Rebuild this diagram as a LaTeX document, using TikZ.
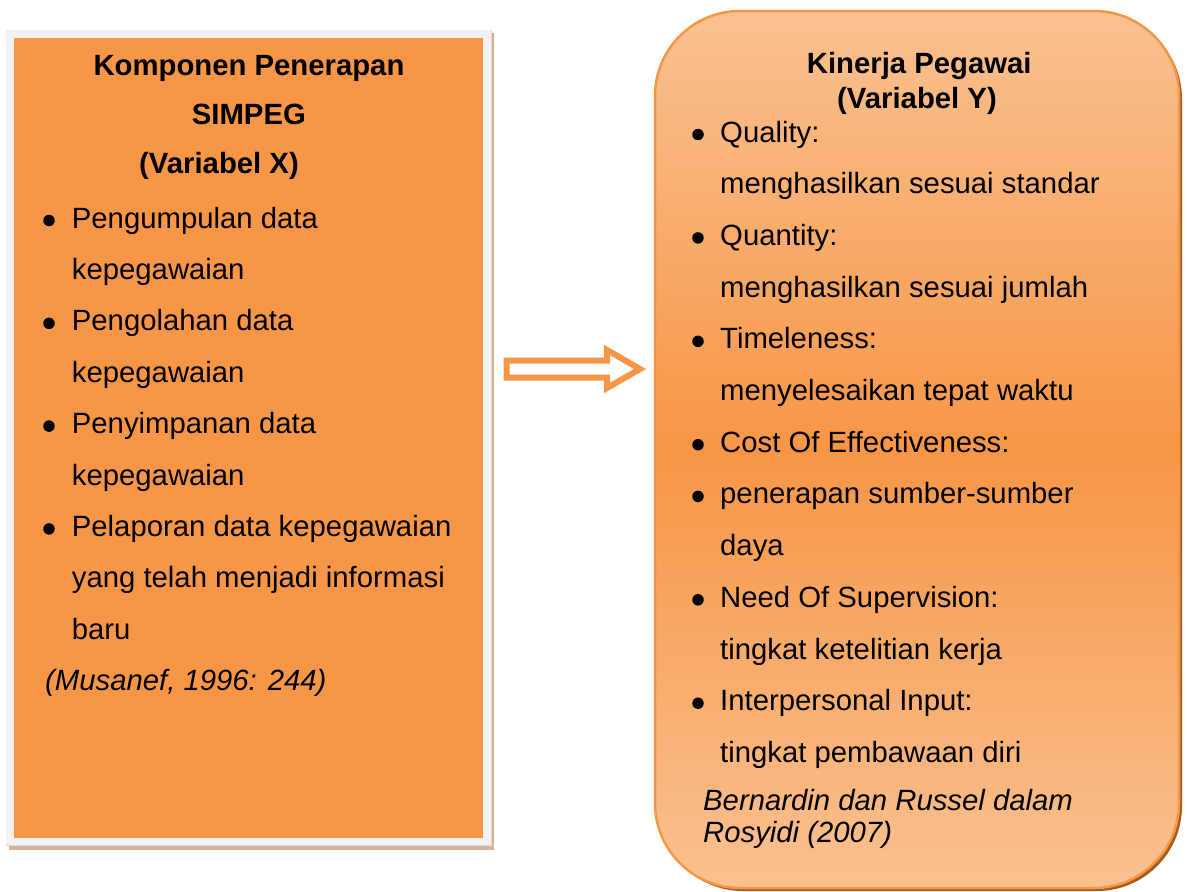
\documentclass[tikz,border=0pt]{standalone}
\usepackage{fontspec}
\setmainfont{Liberation Sans}
\definecolor{orL}{HTML}{F79646}
\definecolor{frameG}{HTML}{F2F2F2}
\definecolor{frameLine}{HTML}{D9D9D9}
\definecolor{shadowT}{HTML}{D8B293}
\definecolor{lightO}{HTML}{FAC292}
\definecolor{midO}{HTML}{F79646}
\definecolor{shadowR}{HTML}{A65A1E}
\begin{document}
\begin{tikzpicture}[x=1pt,y=-1pt,
  txt/.style={anchor=base west, inner sep=0pt, font=\fontsize{29.3}{35}\selectfont},
  ttl/.style={txt, font=\fontsize{29.3}{35}\selectfont\bfseries},
  cite/.style={txt, font=\fontsize{29.3}{35}\selectfont\itshape},
  bul/.style={circle, fill=black, inner sep=0pt, minimum size=11.5pt}]
\useasboundingbox (0,0) rectangle (1187,892);
% left box: shadow, frame, orange panel
\fill[shadowT] (9,33) rectangle (494,850);
\fill[frameG] (6,30) rectangle (491,846);
\draw[frameLine, line width=0.8pt] (6,845.5) -- (491,845.5) -- (491,30);
\fill[orL] (14,38) rectangle (483,838);
% right box
\fill[shadowR, rounded corners=85pt] (658,14) rectangle (1182,891);
\begin{scope}
  \clip[rounded corners=85pt] (655,11) rectangle (1179,888);
  \shade[top color=lightO, bottom color=midO] (650,5) rectangle (1185,450);
  \shade[top color=midO, bottom color=lightO] (650,449) rectangle (1185,895);
\end{scope}
\draw[orL, line width=2.5pt, rounded corners=85pt] (655,11) rectangle (1179,888);
% block arrow
\draw[orL, line width=6pt, fill=white, miter limit=10] (506.7,360.5) -- (607,360.5) -- (607,350) -- (640,369) -- (607,388) -- (607,377.5) -- (506.7,377.5) -- cycle;
% left texts
\node[ttl] (lt1) at (93.3,75) {Komponen Penerapan};
\node[ttl] (lt2) at (191.7,124) {SIMPEG};
\node[ttl] (lt3) at (139,173) {(Variabel X)};
\foreach \t [count=\i from 0] in {Pengumpulan data, kepegawaian, Pengolahan data, kepegawaian, Penyimpanan data, kepegawaian, Pelaporan data kepegawaian, yang telah menjadi informasi, baru}
  \node[txt] (lk\i) at (71.7,{228+51.4*\i}) {\t};
\foreach \i in {0,2,4,6}
  \node[bul] (lb\i) at (49,{228+51.4*\i-7.5}) {};
\node[cite] (lcite) at (45,690) {(Musanef, 1996: 244)};
% right texts
\node[ttl] (rt1) at (806.7,73) {Kinerja Pegawai};
\node[ttl] (rt2) at (837,108) {(Variabel Y)};
\foreach \t [count=\i from 0] in {Quality:, menghasilkan sesuai standar, Quantity:, menghasilkan sesuai jumlah, Timeleness:, menyelesaikan tepat waktu, Cost Of Effectiveness:, penerapan sumber-sumber, daya, Need Of Supervision:, tingkat ketelitian kerja, Interpersonal Input:, tingkat pembawaan diri}
  \node[txt] (rk\i) at (720,{142+51.7*\i}) {\t};
\foreach \i in {0,2,4,6,7,9,11}
  \node[bul] (rb\i) at (698,{142+51.7*\i-7.5}) {};
\node[cite] (rcite1) at (703,810) {Bernardin dan Russel dalam};
\node[cite] (rcite2) at (703,842) {Rosyidi (2007)};
\end{tikzpicture}
\end{document}
